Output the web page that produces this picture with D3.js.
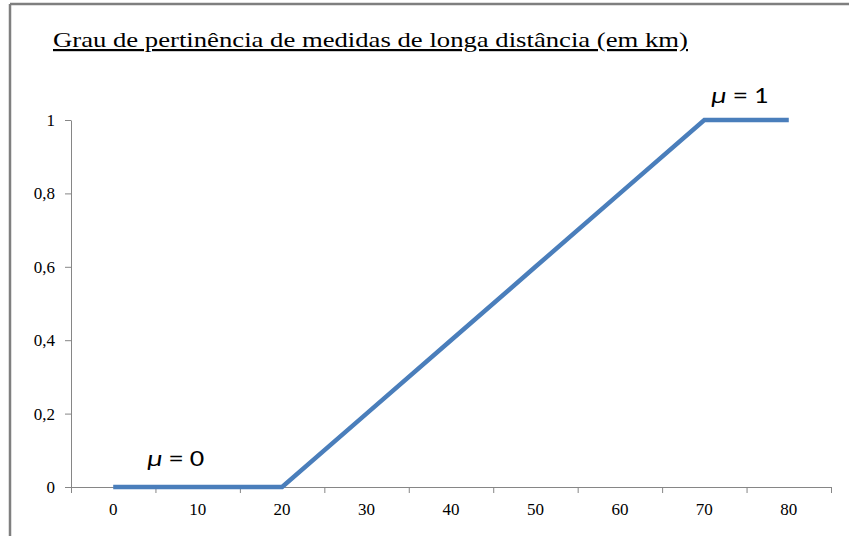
<!DOCTYPE html>
<html><head><meta charset="utf-8">
<script src="https://cdn.jsdelivr.net/npm/d3@7"></script>
<style>html,body{margin:0;padding:0;background:#fff;overflow:hidden}</style>
</head><body>
<svg id="c" width="849" height="536"></svg>
<script>
const categories = ["0","10","20","30","40","50","60","70","80"];
const values = [0, 0, 0, 0.2, 0.4, 0.6, 0.8, 1, 1];
const yTicks = [0, 0.2, 0.4, 0.6, 0.8, 1];
const yTickLabels = ["0","0,2","0,4","0,6","0,8","1"];
const title = "Grau de pertinência de medidas de longa distância (em km)";

const SERIF = '"Liberation Serif","Times New Roman",serif';
const CAL = 'Carlito,"Liberation Sans",sans-serif';
const svg = d3.select("#c");
const axisColor = "#868686";
const x = d3.scaleBand().domain(categories).range([71, 831]).padding(0);
const y = d3.scaleLinear().domain([0, 1]).range([487, 120]);

// frame
svg.append("line").attr("x1",10).attr("x2",849).attr("y1",4).attr("y2",4).attr("stroke","#7f7f7f").attr("stroke-width",2.5);
svg.append("line").attr("x1",10).attr("x2",10).attr("y1",4).attr("y2",536).attr("stroke","#7f7f7f").attr("stroke-width",2.5);

// title
svg.append("text").attr("x",53).attr("y",47)
  .style("font-family",SERIF).style("font-size","22px").style("text-decoration","underline")
  .attr("fill","#000").attr("textLength",635).attr("lengthAdjust","spacingAndGlyphs").text(title);

// y axis
const ya = svg.append("g").attr("transform","translate(71,0)")
  .call(d3.axisLeft(y).tickValues(yTicks).tickFormat((d,i)=>yTickLabels[i]).tickSize(6).tickSizeOuter(0).tickPadding(10));
ya.select(".domain").attr("stroke",axisColor);
ya.selectAll(".tick line").attr("stroke",axisColor);
ya.selectAll(".tick text").style("font-family",SERIF).style("font-size","17px").attr("fill","#000");

// x axis: ticks between bands, labels centered in bands
const xb = d3.scaleLinear().domain([0, categories.length]).range(x.range());
const xt = svg.append("g").attr("transform","translate(0,487)")
  .call(d3.axisBottom(xb).tickValues(d3.range(categories.length+1)).tickFormat("").tickSize(6).tickSizeOuter(0));
xt.select(".domain").attr("stroke",axisColor);
xt.selectAll(".tick line").attr("stroke",axisColor);
const xl = svg.append("g").attr("transform","translate(0,487)")
  .call(d3.axisBottom(x).tickSize(0).tickPadding(16));
xl.select(".domain").remove();
xl.selectAll(".tick text").style("font-family",SERIF).style("font-size","17px").attr("fill","#000");

// line
const line = d3.line().x((d,i)=>x(categories[i])+x.bandwidth()/2).y(d=>y(d));
svg.append("path").datum(values).attr("d",line).attr("fill","none")
  .attr("stroke","#4a7ebb").attr("stroke-width",4.5).attr("stroke-linejoin","miter");

// annotations
function label(cx, cy, txt){
  svg.append("text").attr("x",cx).attr("y",cy)
    .style("font-family",CAL).style("font-size","22px").attr("fill","#000")
    .attr("textLength",57).attr("lengthAdjust","spacingAndGlyphs")
    .call(t=>{t.append("tspan").style("font-style","italic").text("μ");t.append("tspan").text(" = "+txt);});
}
label(x("0")+x.bandwidth()/2+34, y(0)-21, "0");
label(x("70")+x.bandwidth()/2+7, y(1)-17, "1");
</script>
</body></html>
